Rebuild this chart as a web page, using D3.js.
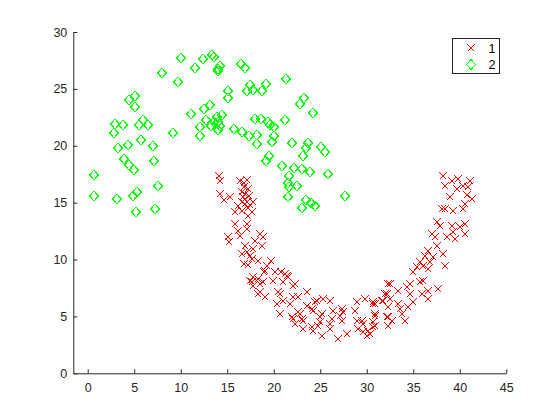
<!DOCTYPE html>
<meta charset="utf-8">
<script src="https://d3js.org/d3.v7.min.js"></script>
<style type="text/css">
body { margin:0; background:#fff; }
.axis text { font-family: "Liberation Sans", Arial, sans-serif; font-size: 12.5px; fill: #262626; }
.axis line, .axis path { stroke: #262626; stroke-width: 1px; }
.legText { font-family: "Liberation Sans", Arial, sans-serif; font-size: 12.5px; fill: #000; }
.mark { fill: none; stroke-width: 1px; shape-rendering: crispEdges; }
</style>
<body>
</body>
<script>

// class 1 (red crosses)
var redX = [14.12,14.22,14.22,14.69,15.3,16.37,17.09,16.84,17.2,16.56,16.93,16.93,17.1,16.56,17.8,16.13,17.27,16.63,17.63,17.2,
  15.84,17.09,15.84,16.2,17.09,16.38,15.12,15.19,18.53,18.88,17.99,16.93,18.71,17.81,17.1,16.56,17.45,17.63,16.84,17.27,
  19.24,19.7,18.99,20.14,21.21,20.78,21.57,17.45,18.35,18.88,19.95,21.03,22.28,17.8,18.53,20.42,23.54,
  16.7,17.3,16.9,17.5,16.8,
  18.35,19.06,21.39,17.63,18.53,22.1,18.35,19.06,20.67,21.03,22.1,20.32,23.54,24.62,25.33,26.05,20.67,21.93,22.64,23.0,
  24.08,24.97,26.4,27.3,27.12,22.28,23.18,24.08,24.97,25.16,26.05,26.94,27.84,28.74,28.92,29.63,29.09,30.17,30.7,29.81,
  30.89,30.89,29.99,31.79,32.15,32.32,32.15,32.32,
  17.8,21.75,22.64,24.44,22.1,22.82,23.18,24.25,25.16,26.23,27.48,27.3,24.25,24.79,26.05,28.92,29.45,29.63,30.7,30.89,30.35,
  38.24,38.41,39.13,39.84,39.74,40.38,41.1,40.92,38.95,40.74,41.28,40.56,40.38,38.06,38.41,39.3,37.52,37.87,39.13,40.02,
  40.56,39.3,40.56,36.98,37.34,38.59,39.48,37.52,36.62,36.26,38.24,37.16,36.8,35.73,36.09,38.41,36.62,35.01,35.37,36.09,
  35.73,34.65,32.5,34.29,33.39,34.65,37.7,36.62,35.91,36.62,31.96,32.5,31.61,30.7,33.39,35.01,32.32,33.57,34.47,33.76,
  30.89,32.32,32.68,34.11,30.7];
var redY = [17.38,16.94,15.77,15.19,15.48,16.94,17.03,16.36,16.21,15.98,15.77,15.33,15.1,15.03,15.03,14.74,14.51,14.3,14.15,13.86,
  14.15,13.13,13.13,12.54,12.69,12.1,11.95,11.57,12.25,11.95,11.66,11.22,11.22,10.93,10.63,10.49,10.34,10.05,9.61,9.52,
  9.4,9.9,8.93,8.87,8.73,8.87,8.43,8.14,8.29,7.99,8.14,7.99,7.85,7.7,7.11,7.11,7.11,
  15.5,15.6,14.9,14.8,16.7,
  9.9,9.02,8.58,7.99,7.85,7.7,6.97,6.67,6.97,6.38,6.67,6.09,5.94,6.38,6.53,6.38,5.21,4.91,5.35,4.77,
  5.65,4.91,5.5,5.65,5.06,4.33,3.89,4.03,4.47,3.3,4.33,3.01,3.45,5.5,4.62,4.33,3.89,3.74,4.03,6.53,
  6.09,5.06,3.3,6.38,6.97,7.85,4.91,4.18,
  8.43,6.09,6.67,6.24,4.77,5.21,4.62,5.5,5.21,4.77,5.35,4.62,3.74,4.18,3.89,6.24,4.62,3.59,6.24,4.18,3.45,
  17.38,16.5,16.94,17.09,16.21,16.5,16.94,16.36,15.48,15.63,15.33,14.89,14.45,14.45,14.45,14.3,13.28,12.98,12.98,12.83,
  13.13,12.39,12.25,12.25,11.95,11.95,11.81,11.22,10.78,10.34,10.49,10.19,9.75,9.75,9.46,9.46,9.17,8.87,9.31,8.14,
  7.99,7.85,7.85,7.55,7.26,6.97,7.4,7.26,6.97,6.53,6.97,6.53,6.38,6.09,6.09,6.24,5.79,5.65,5.79,5.21,
  5.21,4.91,4.62,4.62,4.47];

// class 2 (green diamonds)
var greenX = [0.68,0.71,3.18,4.84,5.27,5.23,7.2,7.6,2.97,2.83,3.83,3.29,4.37,3.94,4.44,4.98,5.73,5.48,5.91,6.52,
  6.99,7.1,4.48,5.05,5.12,8.02,9.14,9.74,10.03,11.54,12.43,13.33,13.58,14.04,14.23,11.1,13.15,12.5,12.69,12.08,
  12.08,13.29,13.87,14.04,14.4,14.04,14.01,13.6,14.2,15.12,15.12,15.7,16.56,17.34,16.48,16.95,17.1,17.45,17.74,17.99,
  18.17,18.24,21.35,18.74,19.14,23.22,22.86,24.25,18.6,19.35,19.6,20.06,21.24,20.06,19.85,22.0,23.72,23.5,25.08,25.48,
  19.46,19.17,23.18,20.92,22.18,23.04,23.93,25.87,21.67,21.5,21.6,22.47,21.5,27.7,23.44,23.07,24.0,24.47];
var greenY = [17.45,15.56,15.36,15.56,15.9,14.15,14.4,16.5,21.9,21.1,21.85,19.76,20.05,18.85,18.33,17.9,20.55,21.85,22.3,21.85,
  19.94,18.68,24.0,24.4,23.43,26.4,21.1,25.57,27.7,26.83,27.6,27.98,27.8,26.78,26.98,22.78,23.57,23.2,22.23,21.64,
  20.82,21.7,22.52,22.08,22.67,21.4,26.57,22.1,21.7,24.8,24.2,21.43,21.2,20.82,27.2,26.83,24.8,25.33,24.87,22.31,
  20.96,20.18,25.9,24.78,25.4,24.19,23.66,22.9,22.34,22.08,21.85,21.64,22.29,20.85,20.35,20.26,20.26,19.82,19.9,19.44,
  19.12,18.64,19.06,18.24,18.06,18.0,17.68,17.5,17.36,16.7,16.36,16.48,15.48,15.6,15.19,14.51,14.95,14.72];

var xTicks = [0,5,10,15,20,25,30,35,40,45];
var yTicks = [0,5,10,15,20,25,30];
var legendLabels = ['1','2'];
var classColors = ['#ff0000', '#00ff00'];

var width = 560, height = 420;

var svg = d3.select('body').append('svg')
  .attr('width', width)
  .attr('height', height);

// scales (axes box from pixel 73.3 to 506.3, 32 to 373.3)
var xScale = d3.scaleLinear().domain([-1.55, 45]).range([73.3, 506.3]);
var yScale = d3.scaleLinear().domain([0, 30]).range([373.3, 32]);

// axes, ticks pointing inward like matlab
var xAxis = d3.axisBottom(xScale).tickValues(xTicks).tickSizeInner(-4).tickSizeOuter(0).tickPadding(10);
var yAxis = d3.axisLeft(yScale).tickValues(yTicks).tickSizeInner(-4).tickSizeOuter(0).tickPadding(6);

svg.append('g')
  .attr('class', 'x axis')
  .attr('transform', 'translate(0,' + yScale(0) + ')')
  .call(xAxis);

svg.append('g')
  .attr('class', 'y axis')
  .attr('transform', 'translate(' + xScale.range()[0] + ',0)')
  .call(yAxis);

var crossPath = 'M-3.5,-3.5L3.5,3.5M-3.5,3.5L3.5,-3.5';
var diamondPath = 'M0,-5L4.3,0L0,5L-4.3,0Z';

var redData = redX.map(function(d, i) { return {x: d, y: redY[i]}; });
var greenData = greenX.map(function(d, i) { return {x: d, y: greenY[i]}; });

// snap to whole pixels so the thin markers stay sharp
function place(d) {
  return 'translate(' + Math.round(xScale(d.x)) + ',' + Math.round(yScale(d.y)) + ')';
}

svg.append('g').selectAll('path')
  .data(redData).enter().append('path')
  .attr('class', 'mark')
  .attr('d', crossPath)
  .attr('transform', place)
  .style('stroke', classColors[0]);

svg.append('g').selectAll('path')
  .data(greenData).enter().append('path')
  .attr('class', 'mark')
  .attr('d', diamondPath)
  .attr('transform', place)
  .style('stroke', classColors[1]);

// legend
var legend = svg.append('g').attr('transform', 'translate(452.5,38.5)');

legend.append('rect')
  .attr('width', 47)
  .attr('height', 35)
  .style('fill', '#fff')
  .style('stroke', '#262626')
  .style('stroke-width', 1);

var legItems = legend.selectAll('.legItem')
  .data(legendLabels).enter().append('g')
  .attr('class', 'legItem')
  .attr('transform', function(d, i) { return 'translate(0,' + (9.5 + i * 16.5) + ')'; });

legItems.append('path')
  .attr('class', 'mark')
  .attr('d', function(d, i) { return i == 0 ? crossPath : diamondPath; })
  .attr('transform', 'translate(18.5,0)')
  .style('stroke', function(d, i) { return classColors[i]; });

legItems.append('text')
  .attr('class', 'legText')
  .attr('x', 36)
  .attr('y', 4.5)
  .text(function(d) { return d; });

</script>
